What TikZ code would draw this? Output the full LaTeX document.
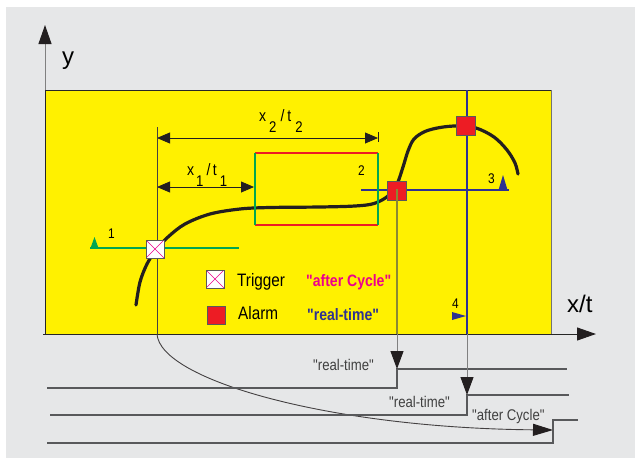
\documentclass[tikz,border=0pt]{standalone}
\usepackage{fontspec}
\setmainfont{Liberation Sans}[FakeStretch=0.85, Ligatures=TeXOff]
\newfontfamily\axisfont{Liberation Sans}
\usetikzlibrary{arrows.meta}
\definecolor{bggray}{HTML}{E6E7E8}
\definecolor{yel}{HTML}{FFF100}
\definecolor{alarmred}{HTML}{ED1C24}
\definecolor{navy}{HTML}{2E3192}
\definecolor{grn}{HTML}{00A651}
\definecolor{mag}{HTML}{EC008C}
\definecolor{olive}{HTML}{8A8834}
\definecolor{lgray}{HTML}{58595B}
\definecolor{curvecol}{HTML}{231F20}
\newcommand{\qq}{\symbol{34}}
\newcommand{\lowsub}[1]{\raisebox{-11pt}{\fontsize{15.5}{15}\selectfont #1}}
\begin{document}
\begin{tikzpicture}[x=1pt,y=-1pt,
  alarmbox/.style={draw=black!65, fill=alarmred, minimum size=19pt, inner sep=0pt, line width=0.8pt},
  trigbox/.style={draw=black!65, fill=white, minimum size=18pt, inner sep=0pt, line width=0.8pt,
    path picture={\draw[mag, line width=0.6pt]
      (path picture bounding box.north west) -- (path picture bounding box.south east)
      (path picture bounding box.north east) -- (path picture bounding box.south west);}},
  legtext/.style={font=\fontsize{18}{18}\selectfont, inner sep=0pt, anchor=base west},
  boldtext/.style={font=\fontsize{16.5}{17}\selectfont\bfseries, inner sep=0pt, anchor=base west},
  steplabel/.style={text=black!75, font=\fontsize{15.5}{16}\selectfont, inner sep=0pt, anchor=base west},
  numlabel/.style={font=\fontsize{14}{14}\selectfont, inner sep=0pt, anchor=base west},
  axislabel/.style={font=\axisfont\fontsize{24}{24}\selectfont, inner sep=0pt, anchor=base west},
  dimlabel/.style={font=\fontsize{16.5}{16}\selectfont, inner sep=0pt, anchor=base west},
  dimarrow/.style={draw=curvecol, line width=0.8pt, {Triangle[length=13pt,width=11pt]}-{Triangle[length=13pt,width=11pt]}},
  stepline/.style={draw=lgray, line width=1.1pt},
  downarrow/.style={draw=black!50, line width=1pt, -{Triangle[length=18pt,width=13pt,color=curvecol]}},
  axisarrow/.style={line width=1pt, -{Triangle[length=19pt,width=13pt,color=curvecol]}},
  winred/.style={draw=alarmred, line width=1.6pt},
  wingreen/.style={draw=grn, line width=1.6pt}
]
\useasboundingbox (0,0) rectangle (635,458);
\fill[white] (0,0) rectangle (635,458);
\fill[bggray] (6,7) rectangle (635,458);
% yellow field
\fill[yel] (45,90) rectangle (551,334);
\draw[black!85, line width=1pt] (45,334) -- (45,90) -- (551,90);
\draw[black!55, line width=1pt] (551,90) -- (551,334);

% axes
\coordinate (yfoot) at (45,90);
\coordinate (ytip) at (45,25);
\coordinate (xfoot) at (43,334);
\coordinate (xtip) at (596,334);
\draw[axisarrow, draw=black!50] (yfoot) -- (ytip);
\draw[axisarrow, draw=black!85] (xfoot) -- (xtip);
\node[axislabel] (ylab) at (62,64.5) {y};
\node[axislabel] (xlab) at (567,312) {x/t};

% green threshold line 1
\coordinate (g1a) at (90,248);
\coordinate (g1b) at (239,248);
\draw[grn, line width=1.5pt] (g1a) -- (g1b);
\fill[grn] (90.5,248) -- (98.5,248) -- (94.5,237) -- cycle;
\node[numlabel] (n1) at (108,238) {1};

% blue lines
\coordinate (b3a) at (361,190);
\coordinate (b3b) at (509,190);
\draw[navy, line width=1.2pt] (b3a) -- (b3b);
\fill[navy] (498.5,190) -- (507.5,190) -- (503,175) -- cycle;
\node[numlabel] (n3) at (488,183) {3};
\coordinate (b4top) at (467,90);
\coordinate (b4bot) at (467,334);
\draw[navy, line width=1.2pt] (b4top) -- (b4bot);
\fill[navy] (452,312) -- (452,320) -- (466,316) -- cycle;
\node[numlabel] (n4) at (452,308) {4};

% window rectangle corners
\coordinate (wtl) at (255,153);
\coordinate (wtr) at (378,153);
\coordinate (wbl) at (255,225);
\coordinate (wbr) at (378,225);
\node[numlabel] (n2) at (358,175) {2};

% dimension lines
\coordinate (dtop) at (157,127);
\coordinate (dbend) at (157,334);
\coordinate (d2a) at (157,138);
\coordinate (d2b) at (378,138);
\coordinate (d2t1) at (378,132);
\coordinate (d2t2) at (378,142);
\coordinate (d1a) at (157,187);
\coordinate (d1b) at (254,187);
\draw[curvecol, line width=0.8pt] (d2t1) -- (d2t2);
\draw[dimarrow] (d2a) -- (d2b);
\draw[dimarrow] (d1a) -- (d1b);
\node[dimlabel] (x2lab) at (259,121) {x\kern3pt\lowsub{2}\kern4pt/\kern3pt t\kern4pt\lowsub{2}};
\node[dimlabel] (x1lab) at (187,175) {x\kern2pt\lowsub{1}\kern3pt/\kern2.5pt t\kern3pt\lowsub{1}};

% alarm drop lines
\coordinate (a1c) at (397,189);
\coordinate (a1y) at (397,334);
\draw[olive, line width=1.1pt] (a1c) -- (a1y);

% trigger line and bottom curve
\coordinate (ac) at (553,430);
\draw[curvecol!85, line width=0.9pt] (dtop) -- (dbend);
\draw[curvecol!85, line width=0.9pt, -{Triangle[length=20pt,width=12pt,color=curvecol]}]
  (dbend) .. controls (160,380) and (330,428) .. (ac);

% main curve
\draw[curvecol, line width=3.2pt, line cap=round] plot[smooth, tension=0.55] coordinates {
 (136,305) (140,282) (147,264) (156,250) (168,237) (185,224) (210,214) (240,209) (270,207.5)
 (320,207) (355,206) (374,203.5) (388,196) (397,184) (403,167) (408,151) (414,139) (425,131.5)
 (440,127.5) (457,126) (476,128) (494,137) (507,150) (515,163) (518,174)};

% window rectangle edges
\draw[winred] (wtl) -- (wtr);
\draw[winred] (wbl) -- (wbr);
\draw[wingreen] (wtl) -- (wbl);
\draw[wingreen] (wtr) -- (wbr);

% markers
\node[trigbox] (trig) at (155,249) {};
\node[alarmbox] (al1) at (397,191) {};
\draw[olive, line width=1.1pt] (a1c) -- (al1.south);
\node[alarmbox] (al2) at (466,126) {};

% legend
\node[trigbox] (legtrig) at (215,279) {};
\node[legtext] (trigtxt) at (237,286) {Trigger};
\node[boldtext, text=mag] (aftxt) at (306,286) {\qq after Cycle\qq};
\node[alarmbox, minimum size=18pt] (legal) at (216,315) {};
\node[legtext] (altxt) at (238,319) {Alarm};
\node[boldtext, text=navy] (rttxt) at (307,320) {\qq real-time\qq};

% bottom step signals
\coordinate (s1a) at (47,388);
\coordinate (s1b) at (397,388);
\coordinate (s1c) at (397,369);
\coordinate (s1d) at (567,369);
\draw[stepline] (s1a) -- (s1b) -- (s1c) -- (s1d);
\coordinate (s2a) at (50,415);
\coordinate (s2b) at (467,415);
\coordinate (s2c) at (467,395);
\coordinate (s2d) at (569,395);
\draw[stepline] (s2a) -- (s2b) -- (s2c) -- (s2d);
\coordinate (s3a) at (47,443);
\coordinate (s3b) at (553,443);
\coordinate (s3c) at (553,420);
\coordinate (s3d) at (578,420);
\draw[stepline] (s3a) -- (s3b) -- (s3c) -- (s3d);

\draw[downarrow] (a1y) -- (s1c);
\draw[downarrow] (b4bot) -- (s2c);

\node[steplabel] (rt1) at (313,370) {\qq real-time\qq};
\node[steplabel] (rt2) at (389,407) {\qq real-time\qq};
\node[steplabel] (ac1) at (472,420) {\qq after Cycle\qq};
\end{tikzpicture}
\end{document}
